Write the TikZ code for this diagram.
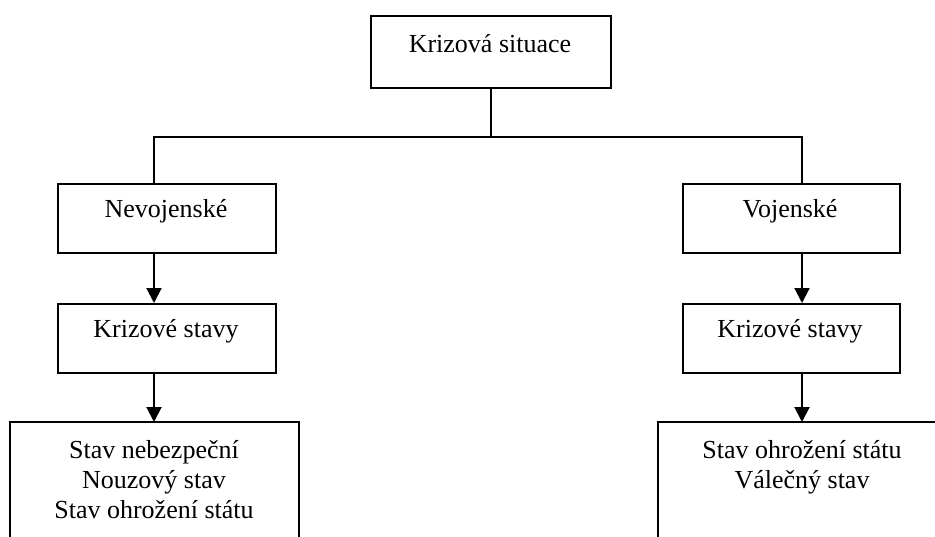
\documentclass[tikz,border=0pt]{standalone}
\usepackage{fontspec}
\setmainfont{Liberation Serif}
\usetikzlibrary{arrows.meta}
\begin{document}
\begin{tikzpicture}[x=0.5pt,y=-0.5pt,
  box/.style={draw,line width=1pt,minimum width=109pt,minimum height=34.5pt,inner sep=0pt,anchor=north west},
  openbox/.style={draw=none,minimum height=75pt,inner sep=0pt,anchor=north west},
  lbl/.style={anchor=base,inner sep=0pt,font=\fontsize{13}{15}\selectfont,align=center},
  arr/.style={line width=1pt,-{Triangle[width=7.5pt,length=7.5pt]}},
  ln/.style={line width=1pt}]
\useasboundingbox[fill=white] (0,0) rectangle (935,536);
% boxes
\node[box,minimum width=120pt,minimum height=36pt] (top) at (370,15) {};
\node[box] (nev) at (57,183) {};
\node[box] (ksl) at (57,303) {};
\node[box,minimum width=108.5pt] (voj) at (682,183) {};
\node[box,minimum width=108.5pt] (ksr) at (682,303) {};
\node[openbox,minimum width=144pt] (sl) at (10,422) {};
\node[openbox,minimum width=145pt] (sr) at (658,422) {};
\draw[ln] (sl.south west) -- (sl.north west) -- (sl.north east) -- (sl.south east);
\draw[ln] (sr.south west) -- (sr.north west) -- (sr.north east) -- (sr.south east);
% texts
\node[lbl] (ttop) at (490,52) {Krizová situace};
\node[lbl] (tnev) at (166,217) {Nevojenské};
\node[lbl] (tksl) at (166,337) {Krizové stavy};
\node[lbl] (tvoj) at (790,217) {Vojenské};
\node[lbl] (tksr) at (790,337) {Krizové stavy};
\node[lbl] (tsl) at (154,518) {Stav nebezpeční\\Nouzový stav\\Stav ohrožení státu};
\node[lbl] (tsr) at (802,488) {Stav ohrožení státu\\Válečný stav};
% connectors
\coordinate (lx) at (154,137);
\coordinate (rx) at (802,137);
\draw[ln] (top.south) -- (top.south |- lx);
\draw[ln] (lx |- nev.north) -- (lx) -- (rx) -- (rx |- voj.north);
\draw[arr] (lx |- nev.south) -- (lx |- ksl.north);
\draw[arr] (lx |- ksl.south) -- (lx |- sl.north);
\draw[arr] (rx |- voj.south) -- (rx |- ksr.north);
\draw[arr] (rx |- ksr.south) -- (rx |- sr.north);
\end{tikzpicture}
\end{document}
